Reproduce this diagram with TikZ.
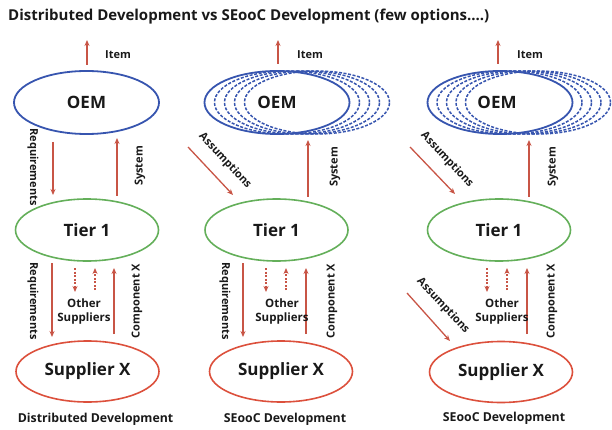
\documentclass[tikz,border=0pt]{standalone}
\usepackage{fontspec}
\setmainfont{Open Sans}
\usetikzlibrary{arrows.meta,shapes.geometric}
\definecolor{oemblue}{RGB}{55,85,175}
\definecolor{tiergreen}{RGB}{100,175,90}
\definecolor{supred}{RGB}{220,80,60}
\definecolor{arrred}{RGB}{200,85,70}
\definecolor{txt}{RGB}{25,25,25}
\tikzset{
  oemell/.style={ellipse, draw=oemblue, line width=1.8pt, minimum width=145pt, minimum height=63pt, inner sep=0pt},
  oemdash/.style={oemell, dash pattern=on 3pt off 1.6pt, line width=1.5pt},
  tierell/.style={ellipse, draw=tiergreen, line width=1.6pt, minimum width=143pt, minimum height=62pt, inner sep=0pt},
  supell/.style={ellipse, draw=supred, line width=1.6pt, minimum width=143pt, minimum height=61pt, inner sep=0pt},
  bigtxt/.style={font=\fontsize{17}{17}\selectfont\bfseries, text=txt},
  lbl/.style={font=\fontsize{11}{11}\selectfont\bfseries, text=txt, inner sep=0pt},
  othtxt/.style={lbl, align=center, font=\fontsize{11.5}{14}\selectfont\bfseries},
  captxt/.style={font=\fontsize{12.3}{12.3}\selectfont\bfseries, text=txt, inner sep=0pt},
  arr/.style={draw=arrred, line width=1.3pt, -{Stealth[length=6pt,width=5pt]}},
  darr/.style={arr, dash pattern=on 2pt off 1.5pt},
}
\begin{document}
\begin{tikzpicture}[x=1pt,y=-1pt]
\useasboundingbox (0,0) rectangle (612,430);
% title
\node[anchor=west, font=\fontsize{15}{15}\selectfont\bfseries, text=txt, inner sep=0pt] (title) at (8,17) {Distributed Development vs SEooC Development (few options....)};

% ===== Panel 1 =====
\node[oemell] (oem1) at (86.5,102.5) {};
\node[bigtxt] (oem1t) at (86.5,102.5) {OEM};
\node[tierell, bigtxt] (tier1) at (87,230) {Tier 1};
\node[supell, bigtxt] (sup1) at (87.5,371.5) {Supplier X};
\coordinate (i1a) at (87,65); \coordinate (i1b) at (87,40);
\draw[arr] (i1a) -- (i1b);
\node[lbl] (item1) at (118,55) {Item};
\coordinate (r1a) at (53,142); \coordinate (r1b) at (53,195);
\draw[arr] (r1a) -- (r1b);
\node[lbl, rotate=-90] (req1) at (33,167) {Requirements};
\coordinate (s1a) at (117,196); \coordinate (s1b) at (117,138);
\draw[arr] (s1a) -- (s1b);
\node[lbl, rotate=90] (sys1) at (140,166) {System};
\coordinate (r1c) at (52,263); \coordinate (r1d) at (52,337);
\draw[arr] (r1c) -- (r1d);
\node[lbl, rotate=-90] (req1b) at (33,301) {Requirements};
\coordinate (d1a) at (75,268); \coordinate (d1b) at (75,292);
\draw[darr] (d1a) -- (d1b);
\coordinate (u1a) at (95,290); \coordinate (u1b) at (95,268);
\draw[darr] (u1a) -- (u1b);
\coordinate (c1a) at (114,334); \coordinate (c1b) at (114,268);
\draw[arr] (c1a) -- (c1b);
\node[lbl, rotate=90] (comp1) at (137,301) {Component X};
\node[othtxt] (oth1) at (84,312) {Other\\Suppliers};
\node[captxt] (cap1) at (95.5,419) {Distributed Development};

% ===== Panel 2 =====
\foreach \k in {4,3,2,1} {
  \node[oemdash] (oem2d\k) at (277+10*\k,102.5) {};
}
\node[oemell] (oem2) at (277,102.5) {};
\node[bigtxt] (oem2t) at (277,102.5) {OEM};
\node[tierell, bigtxt] (tier2) at (276.5,230) {Tier 1};
\node[supell, bigtxt] (sup2) at (281,371.5) {Supplier X};
\coordinate (i2a) at (278,64); \coordinate (i2b) at (278,40);
\draw[arr] (i2a) -- (i2b);
\node[lbl] (item2) at (310,55) {Item};
\coordinate (a2a) at (188,147); \coordinate (a2b) at (233,195);
\draw[arr] (a2a) -- (a2b);
\node[lbl, rotate=-47] (ass2) at (225,161) {Assumptions};
\coordinate (s2a) at (308,197); \coordinate (s2b) at (308,140);
\draw[arr] (s2a) -- (s2b);
\node[lbl, rotate=90] (sys2) at (335,167) {System};
\coordinate (r2c) at (243,263); \coordinate (r2d) at (243,337);
\draw[arr] (r2c) -- (r2d);
\node[lbl, rotate=-90] (req2b) at (225,301) {Requirements};
\coordinate (d2a) at (266,268); \coordinate (d2b) at (266,292);
\draw[darr] (d2a) -- (d2b);
\coordinate (u2a) at (286,290); \coordinate (u2b) at (286,268);
\draw[darr] (u2a) -- (u2b);
\coordinate (c2a) at (306,334); \coordinate (c2b) at (306,268);
\draw[arr] (c2a) -- (c2b);
\node[lbl, rotate=90] (comp2) at (332,301) {Component X};
\node[othtxt] (oth2) at (282,312) {Other\\Suppliers};
\node[captxt] (cap2) at (285,419) {SEooC Development};

% ===== Panel 3 =====
\foreach \k in {4,3,2,1} {
  \node[oemdash] (oem3d\k) at (500+9.5*\k,102.5) {};
}
\node[oemell] (oem3) at (500,102.5) {};
\node[bigtxt] (oem3t) at (497,102.5) {OEM};
\node[tierell, bigtxt] (tier3) at (499,230) {Tier 1};
\node[supell, bigtxt] (sup3) at (501,372) {Supplier X};
\coordinate (i3a) at (498,64); \coordinate (i3b) at (498,40);
\draw[arr] (i3a) -- (i3b);
\node[lbl] (item3) at (530,55) {Item};
\coordinate (a3a) at (410,147); \coordinate (a3b) at (455,194);
\draw[arr] (a3a) -- (a3b);
\node[lbl, rotate=-47] (ass3) at (447,160) {Assumptions};
\coordinate (s3a) at (529,197); \coordinate (s3b) at (529,140);
\draw[arr] (s3a) -- (s3b);
\node[lbl, rotate=90] (sys3) at (553,167) {System};
\coordinate (d3a) at (487,268); \coordinate (d3b) at (487,292);
\draw[darr] (d3a) -- (d3b);
\coordinate (u3a) at (507,290); \coordinate (u3b) at (507,268);
\draw[darr] (u3a) -- (u3b);
\coordinate (c3a) at (527,334); \coordinate (c3b) at (527,268);
\draw[arr] (c3a) -- (c3b);
\node[lbl, rotate=90] (comp3) at (552,301) {Component X};
\node[othtxt] (oth3) at (502,312) {Other\\Suppliers};
\coordinate (a3c) at (407,293); \coordinate (a3d) at (450,341);
\draw[arr] (a3c) -- (a3d);
\node[lbl, rotate=-47] (ass3b) at (443,306) {Assumptions};
\node[captxt] (cap3) at (504,418) {SEooC Development};
\end{tikzpicture}
\end{document}
